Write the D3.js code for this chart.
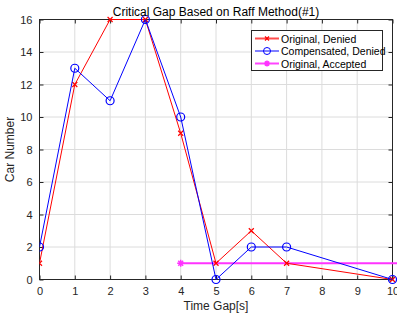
<!DOCTYPE html>
<html><head><meta charset="utf-8">
<script src="https://cdn.jsdelivr.net/npm/d3@7"></script>
<style>
body{margin:0;background:#fff;}
text{font-family:"Liberation Sans",Arial,sans-serif;}
</style></head>
<body><svg id="c" width="397" height="318"></svg>
<script>
const timeGaps = [0,1,2,3,4,5,6,7,10];
const originalDenied = [1,12,16,16,9,1,3,1,0];
const compensatedDenied = [2,13,11,16,10,0,2,2,0];
const acceptedX = [4,11];
const acceptedY = [1,1];
const xTicks = [0,1,2,3,4,5,6,7,8,9,10];
const yTicks = [0,2,4,6,8,10,12,14,16];
const title = "Critical Gap Based on Raff Method(#1)";
const xLabel = "Time Gap[s]";
const yLabel = "Car Number";
const legendLabels = ["Original, Denied","Compensated, Denied","Original, Accepted"];

const svg = d3.select("#c");
const L=39.5, R=392.5, T=19.5, B=279.5;
const x = d3.scaleLinear().domain([0,10]).range([L,R]);
const y = d3.scaleLinear().domain([0,16]).range([B,T]);

svg.append("defs").append("clipPath").attr("id","clip")
  .append("rect").attr("x",L).attr("y",T-6).attr("width",R-L+6).attr("height",B-T+12);

// grid
const g = svg.append("g");
g.selectAll(".gx").data(xTicks).enter().append("line")
  .attr("x1",d=>x(d)).attr("x2",d=>x(d)).attr("y1",T).attr("y2",B)
  .attr("stroke","#dcdcdc").attr("stroke-width",1);
g.selectAll(".gy").data(yTicks).enter().append("line")
  .attr("y1",d=>y(d)).attr("y2",d=>y(d)).attr("x1",L).attr("x2",R)
  .attr("stroke","#dcdcdc").attr("stroke-width",1);

// axes
const ax = svg.append("g").attr("transform",`translate(0,${B})`)
  .call(d3.axisBottom(x).tickValues(xTicks).tickSize(-4).tickPadding(8).tickFormat(d3.format("d")));
const axT = svg.append("g").attr("transform",`translate(0,${T})`)
  .call(d3.axisTop(x).tickValues(xTicks).tickSize(-4).tickFormat(""));
const ay = svg.append("g").attr("transform",`translate(${L},0)`)
  .call(d3.axisLeft(y).tickValues(yTicks).tickSize(-4).tickPadding(7));
const ayR = svg.append("g").attr("transform",`translate(${R},0)`)
  .call(d3.axisRight(y).tickValues(yTicks).tickSize(-4).tickFormat(""));
[ax,axT,ay,ayR].forEach(a=>{
  a.select(".domain").remove();
  a.selectAll("line").attr("stroke","#262626");
  a.selectAll("text").attr("font-size",11).attr("fill","#262626")
   .attr("font-family","'Liberation Sans',Arial,sans-serif");
});
svg.append("rect").attr("x",L).attr("y",T).attr("width",R-L).attr("height",B-T)
  .attr("fill","none").attr("stroke","#262626").attr("stroke-width",1);

const line = d3.line().x(d=>x(d[0])).y(d=>y(d[1]));
const plot = svg.append("g").attr("clip-path","url(#clip)");

function xMark(sel, color, s){
  sel.append("path").attr("d",`M${-s},${-s}L${s},${s}M${-s},${s}L${s},${-s}`)
    .attr("stroke",color).attr("stroke-width",1.2).attr("fill","none");
}
function starMark(sel,color,s){
  sel.append("path").attr("d",`M${-s},0L${s},0M0,${-s}L0,${s}M${-s*0.7},${-s*0.7}L${s*0.7},${s*0.7}M${-s*0.7},${s*0.7}L${s*0.7},${-s*0.7}`)
    .attr("stroke",color).attr("stroke-width",1.5).attr("fill","none");
}

// accepted
const accData = acceptedX.map((d,i)=>[d,acceptedY[i]]);
plot.append("path").attr("d",line(accData)).attr("fill","none")
  .attr("stroke","#ff33ff").attr("stroke-width",2);
plot.selectAll(".am").data(accData.filter(d=>d[0]<=10)).enter().append("g")
  .attr("transform",d=>`translate(${x(d[0])},${y(d[1])})`).each(function(){starMark(d3.select(this),"#ff33ff",3.5);});

// red
const redData = timeGaps.map((d,i)=>[d,originalDenied[i]]);
plot.append("path").attr("d",line(redData)).attr("fill","none").attr("stroke","#ff0000").attr("stroke-width",1);
plot.selectAll(".rm").data(redData).enter().append("g")
  .attr("transform",d=>`translate(${x(d[0])},${y(d[1])})`).each(function(){xMark(d3.select(this),"#ff0000",2.5);});

// blue
const blueData = timeGaps.map((d,i)=>[d,compensatedDenied[i]]);
plot.append("path").attr("d",line(blueData)).attr("fill","none").attr("stroke","#0000ff").attr("stroke-width",1);
plot.selectAll(".bm").data(blueData).enter().append("circle")
  .attr("cx",d=>x(d[0])).attr("cy",d=>y(d[1])).attr("r",4)
  .attr("fill","none").attr("stroke","#0000ff").attr("stroke-width",1.2);

// titles
svg.append("text").attr("x",(L+R)/2).attr("y",16).attr("text-anchor","middle")
  .attr("font-size",12).attr("fill","#000").text(title);
svg.append("text").attr("x",(L+R)/2).attr("y",310).attr("text-anchor","middle")
  .attr("font-size",12).attr("fill","#262626").text(xLabel);
svg.append("text").attr("transform",`translate(14,${(T+B)/2}) rotate(-90)`).attr("text-anchor","middle")
  .attr("font-size",12).attr("fill","#262626").text(yLabel);

// legend
const lg = svg.append("g");
lg.append("rect").attr("x",251.5).attr("y",30.5).attr("width",131).attr("height",40)
  .attr("fill","#fff").attr("stroke","#262626").attr("stroke-width",1);
const colors = ["#ff4d4d","#0000ff","#ff44ff"];
legendLabels.forEach((t,i)=>{
  const yy = 38.5 + i*12.5;
  lg.append("line").attr("x1",255).attr("x2",279).attr("y1",yy).attr("y2",yy)
    .attr("stroke",colors[i]).attr("stroke-width",i===1?1:2);
  const m = lg.append("g").attr("transform",`translate(267,${yy})`);
  if(i===0) xMark(m,"#ff0000",2);
  else if(i===1) m.append("circle").attr("r",3.5).attr("fill","none").attr("stroke","#0000ff").attr("stroke-width",1);
  else starMark(m,"#ff33ff",3);
  lg.append("text").attr("x",281).attr("y",yy+4).attr("font-size",10.5).attr("fill","#000").text(t);
});
</script></body></html>
